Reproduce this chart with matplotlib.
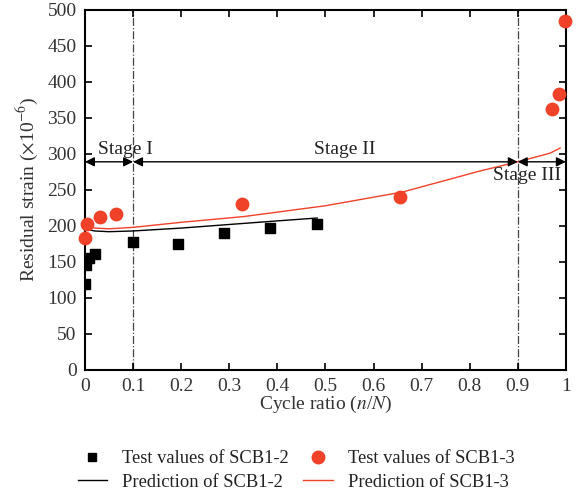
import matplotlib
matplotlib.use("Agg")
import matplotlib.pyplot as plt
from matplotlib.lines import Line2D

plt.rcParams['font.family'] = ['Liberation Serif', 'DejaVu Serif']
plt.rcParams['mathtext.fontset'] = 'stix'

# Test values
x_scb12 = [0.0, 0.002, 0.009, 0.02, 0.10, 0.193, 0.29, 0.385, 0.483]
y_scb12 = [120, 146, 156, 161, 178, 175, 190, 197, 203]
x_scb13 = [0.0, 0.005, 0.032, 0.065, 0.326, 0.655, 0.971, 0.985, 0.998]
y_scb13 = [183, 203, 212, 217, 230, 240, 363, 383, 485]

# Predictions
xp_scb12 = [0.005, 0.02, 0.05, 0.1, 0.2, 0.3, 0.4, 0.483]
yp_scb12 = [195, 193, 192, 193, 197, 202, 207, 211]
xp_scb13 = [0.005, 0.02, 0.05, 0.1, 0.2, 0.33, 0.5, 0.66, 0.82, 0.9, 0.967, 0.988]
yp_scb13 = [200, 197, 196, 198, 205, 213, 228, 247, 276, 289, 301, 308]

red = '#f04129'

fig = plt.figure(figsize=(5.78, 4.92), dpi=100)
ax = fig.add_axes([0.147, 0.248, 0.832, 0.732])

ax.plot(xp_scb12, yp_scb12, color='black', lw=1.0, zorder=3)
ax.plot(xp_scb13, yp_scb13, color=red, lw=1.0, zorder=3)
ax.scatter(x_scb12, y_scb12, marker='s', s=42, color='black', zorder=4)
ax.scatter(x_scb13, y_scb13, marker='o', s=80, color=red, zorder=4, clip_on=False)

for xv in [0.1, 0.9]:
    ax.axvline(xv, color='#444444', lw=0.9, ls='-.', zorder=1)

ya = 289
arrowprops = dict(arrowstyle='<|-|>', color='black', lw=1.0, mutation_scale=14, shrinkA=0, shrinkB=0)
for a, b in [(0, 0.1), (0.1, 0.9), (0.9, 1.0)]:
    ax.annotate('', xy=(a, ya), xytext=(b, ya), arrowprops=arrowprops)
ax.text(0.085, ya + 5, 'Stage I', ha='center', va='bottom', fontsize=14, color='#222222')
ax.text(0.54, ya + 5, 'Stage II', ha='center', va='bottom', fontsize=14, color='#222222')
ax.text(0.92, ya - 7, 'Stage III', ha='center', va='top', fontsize=14, color='#222222')

ax.set_xlim(0, 1)
ax.set_ylim(0, 500)
ax.set_xticks([0, 0.1, 0.2, 0.3, 0.4, 0.5, 0.6, 0.7, 0.8, 0.9, 1])
ax.set_xticklabels(['0', '0.1', '0.2', '0.3', '0.4', '0.5', '0.6', '0.7', '0.8', '0.9', '1'])
ax.set_yticks(range(0, 501, 50))
ax.tick_params(direction='in', top=True, right=True, length=5, width=1.2, labelsize=14, pad=6,
               colors='black', labelcolor='#333333')
for s in ax.spines.values():
    s.set_linewidth(1.5)

ax.set_xlabel(r'Cycle ratio ($n$/$N$)', fontsize=14, color='#333333', labelpad=-1)
ax.set_ylabel(r'Residual strain ($\times$10$^{-6}$)', fontsize=14, color='#333333', labelpad=5)

handles = [
    Line2D([], [], marker='s', ls='none', color='black', markersize=6),
    Line2D([], [], color='black', lw=1.0),
    Line2D([], [], marker='o', ls='none', color=red, markersize=9),
    Line2D([], [], color=red, lw=1.0),
]
labels = ['Test values of SCB1-2', 'Prediction of SCB1-2', 'Test values of SCB1-3', 'Prediction of SCB1-3']
fig.legend(handles, labels, ncol=2, loc='lower center', bbox_to_anchor=(0.512, -0.031), frameon=False,
           fontsize=13.3, handlelength=1.6, columnspacing=0.8, labelspacing=0.35, handletextpad=0.8,
           labelcolor='#222222')

fig.savefig('out.png', dpi=100)
